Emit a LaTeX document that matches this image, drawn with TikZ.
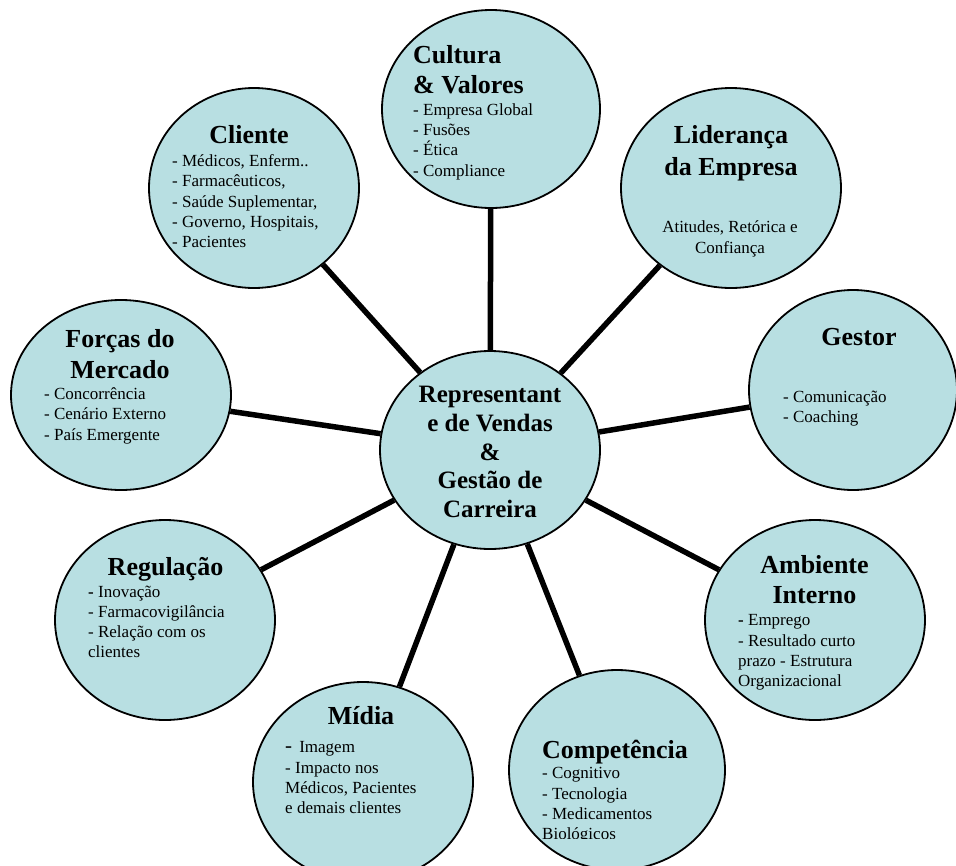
\documentclass[tikz,border=0pt]{standalone}
\usepackage{fontspec}
\setmainfont{Liberation Serif}
\usepackage{tikz}
\usetikzlibrary{shapes.geometric}
\definecolor{bubblefill}{RGB}{184,223,226}
\newcommand{\ttlfont}{\fontsize{26}{30}\selectfont\bfseries}
\newcommand{\hubfont}{\fontsize{25}{28.8}\selectfont\bfseries}
\newcommand{\txtfont}{\fontsize{17}{20.3}\selectfont}
\tikzset{
	bubble/.style={ellipse, draw, line width=1.8pt, fill=bubblefill, inner sep=0pt},
	link/.style={line width=5.5pt},
	ttl/.style={inner sep=0pt, anchor=north, align=center, font=\ttlfont},
	txt/.style={inner sep=0pt, anchor=north west, align=left, font=\txtfont},
}

\begin{document}
\begin{tikzpicture}[x=1pt, y=-1pt]
		\useasboundingbox (0,0) rectangle (956,865);
		\node[bubble, minimum width=220pt, minimum height=198pt] (hub) at (490,450) {};
		\node[bubble, minimum width=218pt, minimum height=198pt] (cultura) at (491,109) {};
		\node[bubble, minimum width=210pt, minimum height=200pt] (cliente) at (254,188) {};
		\node[bubble, minimum width=220pt, minimum height=200pt] (lideranca) at (731,188) {};
		\node[bubble, minimum width=208pt, minimum height=200pt] (gestor) at (853,390) {};
		\node[bubble, minimum width=220pt, minimum height=190pt] (forcas) at (121,395) {};
		\node[bubble, minimum width=220pt, minimum height=200pt] (regulacao) at (165,620) {};
		\node[bubble, minimum width=220pt, minimum height=200pt] (midia) at (363,782) {};
		\node[bubble, minimum width=216pt, minimum height=200pt] (competencia) at (617,770) {};
		\node[bubble, minimum width=220pt, minimum height=200pt] (ambiente) at (815,620) {};
		\foreach \n in {cultura,cliente,lideranca,gestor,forcas,regulacao,midia,competencia,ambiente}
		\draw[link] (hub) -- (\n);
		
		\node[inner sep=0pt, anchor=north, align=center, font=\hubfont] (hubtxt) at (490,386)
		{Representant\\e de Vendas\\\&\\Gestão de\\Carreira};
		
		\node[ttl, anchor=north west, align=left] (culturattl) at (413,45.2) {Cultura\\\& Valores};
		\node[txt] (culturatxt) at (413,103.4) {- Empresa Global\\- Fusões\\- Ética\\- Compliance};
		
		\node[ttl] (clientettl) at (249,125.2) {Cliente};
		\node[txt] (clientetxt) at (172,154.4)
		{- Médicos, Enferm..\\- Farmacêuticos,\\- Saúde Suplementar,\\- Governo, Hospitais,\\- Pacientes};
		
		\node[ttl, font=\fontsize{26}{32}\selectfont\bfseries] (liderancattl) at (731,125.2) {Liderança\\da Empresa};
		\node[txt, anchor=north, align=center, font=\fontsize{17}{21}\selectfont] (liderancatxt) at (730,220.4)
		{Atitudes, Retórica e\\Confiança};
		
		\node[ttl] (gestorttl) at (859,328.2) {Gestor};
		\node[txt] (gestortxt) at (783,390.4) {- Comunicação\\- Coaching};
		
		\node[ttl, font=\fontsize{26}{31}\selectfont\bfseries] (forcasttl) at (120,329.2) {Forças do\\Mercado};
		\node[txt] (forcastxt) at (44,387.4) {- Concorrência\\- Cenário Externo\\- País Emergente};
		
		\node[ttl] (regulacaottl) at (165.5,557.2) {Regulação};
		\node[txt] (regulacaotxt) at (88,585.4)
		{\textbf{-} Inovação\\- Farmacovigilância\\- Relação com os\\clientes};
		
		\node[ttl] (midiattl) at (361,706.5) {Mídia};
		\node[txt] (midiatxt) at (285,741.4)
		{{\fontsize{21}{20}\selectfont -}\, Imagem\\- Impacto nos\\Médicos, Pacientes\\e demais clientes};
		
		\node[ttl] (competenciattl) at (615,740) {Competência};
		\begin{scope}
			\clip (500,600) rectangle (730,838);
			\node[txt] (competenciatxt) at (542,767.4)
			{- Cognitivo\\- Tecnologia\\- Medicamentos\\Biológicos};
		\end{scope}
		
		\node[ttl] (ambientettl) at (814.5,555.2) {Ambiente\\Interno};
		\node[txt] (ambientetxt) at (738,614.4)
		{\textbf{-} Emprego\\- Resultado curto\\prazo - Estrutura\\Organizacional};
\end{tikzpicture}
\end{document}
